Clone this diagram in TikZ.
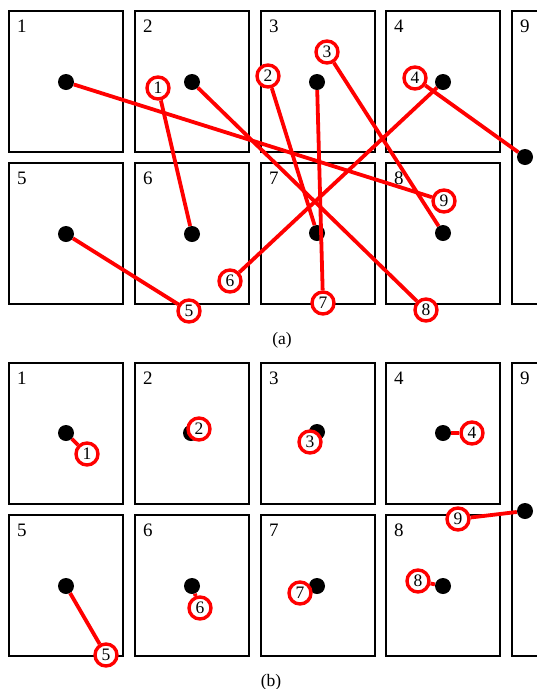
\documentclass[tikz,border=0pt]{standalone}
\usepackage{fontspec}
\setmainfont{Liberation Serif}
\begin{document}
\begin{tikzpicture}[x=1pt,y=-1pt,
  cell/.style={draw=black,line width=2pt,minimum width=114pt,minimum height=141pt,anchor=north west,inner sep=0pt,outer sep=0pt},
  tallcell/.style={cell,minimum height=293pt},
  lbl/.style={anchor=base west,inner sep=0pt,font=\fontsize{19}{19}\selectfont},
  dot/.style={circle,fill=black,minimum size=16pt,inner sep=0pt},
  ring/.style={circle,draw=red,fill=white,line width=3.4pt,minimum size=22pt,inner sep=0pt,font=\fontsize{17.5}{17.5}\selectfont},
  link/.style={draw=red,line width=3.8pt},
  captext/.style={anchor=base,inner sep=0pt,font=\fontsize{17.5}{17.5}\selectfont}]
\useasboundingbox (0,0) rectangle (537,689);
\clip (0,0) rectangle (537,689);
% ---------- panel (a) ----------
\node[cell] (a1) at (9,11) {};
\node[cell] (a2) at (135,11) {};
\node[cell] (a3) at (261,11) {};
\node[cell] (a4) at (386,11) {};
\node[tallcell] (a9) at (512,11) {};
\node[cell] (a5) at (9,163) {};
\node[cell] (a6) at (135,163) {};
\node[cell] (a7) at (261,163) {};
\node[cell] (a8) at (386,163) {};
\node[lbl] (la1) at (17,32) {1};
\node[lbl] (la2) at (143,32) {2};
\node[lbl] (la3) at (269,32) {3};
\node[lbl] (la4) at (394,32) {4};
\node[lbl] (la9) at (520,32) {9};
\node[lbl] (la5) at (17,184) {5};
\node[lbl] (la6) at (143,184) {6};
\node[lbl] (la7) at (269,184) {7};
\node[lbl] (la8) at (394,184) {8};
\node[dot] (ad1) at (66,82) {};
\node[dot] (ad2) at (192,82) {};
\node[dot] (ad3) at (317,82) {};
\node[dot] (ad4) at (443,82) {};
\node[dot] (ad5) at (66,234) {};
\node[dot] (ad6) at (192,234) {};
\node[dot] (ad7) at (317,233) {};
\node[dot] (ad8) at (443,233) {};
\node[dot] (ad9) at (525,157) {};
\node[ring] (ac1) at (158,88) {1};
\node[ring] (ac2) at (268,76) {2};
\node[ring] (ac3) at (327,52) {3};
\node[ring] (ac4) at (415,78) {4};
\node[ring] (ac5) at (189,311) {5};
\node[ring] (ac6) at (230,281) {6};
\node[ring] (ac7) at (323,303) {7};
\node[ring] (ac8) at (426,310) {8};
\node[ring] (ac9) at (444,201) {9};
\draw[link] (ac1) -- (ad6);
\draw[link] (ac2) -- (ad7);
\draw[link] (ac3) -- (ad8);
\draw[link] (ac4) -- (ad9);
\draw[link] (ac5) -- (ad5);
\draw[link] (ac6) -- (ad4);
\draw[link] (ac7) -- (ad3);
\draw[link] (ac8) -- (ad2);
\draw[link] (ac9) -- (ad1);
\node[captext] (capa) at (282,344) {(a)};
% ---------- panel (b) ----------
\node[cell] (b1) at (9,363) {};
\node[cell] (b2) at (135,363) {};
\node[cell] (b3) at (261,363) {};
\node[cell] (b4) at (386,363) {};
\node[tallcell] (b9) at (512,363) {};
\node[cell] (b5) at (9,515) {};
\node[cell] (b6) at (135,515) {};
\node[cell] (b7) at (261,515) {};
\node[cell] (b8) at (386,515) {};
\node[lbl] (lb1) at (17,384) {1};
\node[lbl] (lb2) at (143,384) {2};
\node[lbl] (lb3) at (269,384) {3};
\node[lbl] (lb4) at (394,384) {4};
\node[lbl] (lb9) at (520,384) {9};
\node[lbl] (lb5) at (17,536) {5};
\node[lbl] (lb6) at (143,536) {6};
\node[lbl] (lb7) at (269,536) {7};
\node[lbl] (lb8) at (394,536) {8};
\node[dot] (bd1) at (66,433) {};
\node[dot] (bd2) at (191,433) {};
\node[dot] (bd3) at (317,432) {};
\node[dot] (bd4) at (443,433) {};
\node[dot] (bd5) at (66,586) {};
\node[dot] (bd6) at (192,586) {};
\node[dot] (bd7) at (317,586) {};
\node[dot] (bd8) at (443,586) {};
\node[dot] (bd9) at (525,511) {};
\node[ring] (bc1) at (87,454) {1};
\node[ring] (bc2) at (199,429) {2};
\node[ring] (bc3) at (310,442) {3};
\node[ring] (bc4) at (472,433) {4};
\node[ring] (bc5) at (106,655) {5};
\node[ring] (bc6) at (200,608) {6};
\node[ring] (bc7) at (300,593) {7};
\node[ring] (bc8) at (418,581) {8};
\node[ring] (bc9) at (458,519) {9};
\draw[link] (bc1) -- (bd1);
\draw[link] (bc4) -- (bd4);
\draw[link] (bc5) -- (bd5);
\draw[link] (bc6) -- (bd6);
\draw[link] (bc8) -- (bd8);
\draw[link] (bc9) -- (bd9);
\node[captext] (capb) at (271,686) {(b)};
\end{tikzpicture}
\end{document}
